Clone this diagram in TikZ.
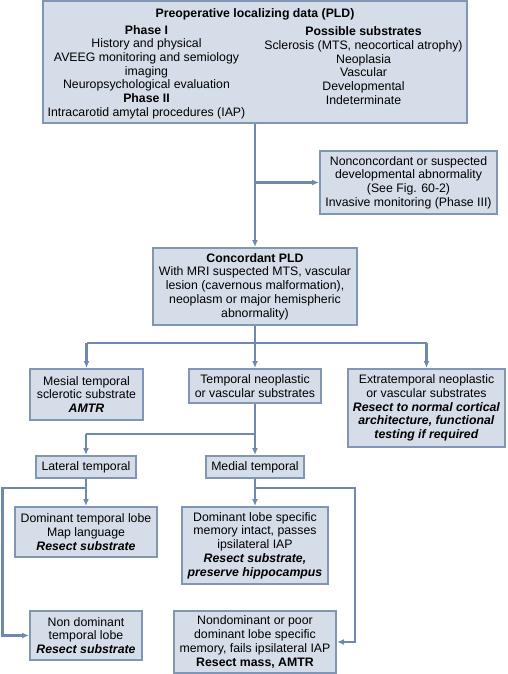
\documentclass[tikz,border=0pt]{standalone}
\usepackage{fontspec}
\setmainfont{Liberation Sans}
\usetikzlibrary{arrows.meta}
\definecolor{boxfill}{HTML}{D5DDE8}
\definecolor{boxline}{HTML}{8196B4}
\definecolor{conn}{HTML}{6F89AE}
\tikzset{
  box/.style={draw=boxline, line width=2pt, fill=boxfill, align=center, inner sep=0pt,
    font=\fontsize{12.3}{13.7}\selectfont},
  txt/.style={align=center, inner sep=0pt, font=\fontsize{12.3}{13.7}\selectfont},
  conline/.style={draw=conn, line width=2.3pt},
  arr/.style={conline, -{Latex[length=7pt,width=6pt]}},
}
\begin{document}
\begin{tikzpicture}[x=1pt,y=-1pt]
\useasboundingbox (0,0) rectangle (507,674);
% top box
\node[box, minimum width=424, minimum height=122] (pld) at (255,62) {};
\node[txt] (title) at (255,14) {\textbf{Preoperative localizing data (PLD)}};
\node[txt] (phase) at (146.5,72) {\textbf{Phase I}\\History and physical\\AVEEG monitoring and semiology\\imaging\\Neuropsychological evaluation\\\textbf{Phase II}\\Intracarotid amytal procedures (IAP)};
\node[txt] (subs) at (363.5,65.5) {\textbf{Possible substrates}\\Sclerosis (MTS, neocortical atrophy)\\Neoplasia\\Vascular\\Developmental\\Indeterminate};
% nonconcordant
\node[box, minimum width=177, minimum height=63] (nonc) at (408.5,182.5) {Nonconcordant or suspected\\developmental abnormality\\(See Fig. 60-2)\\Invasive monitoring (Phase III)};
% concordant
\node[box, minimum width=204, minimum height=77] (conc) at (255,286.5) {\textbf{Concordant PLD}\\With MRI suspected MTS, vascular\\lesion (cavernous malformation),\\neoplasm or major hemispheric\\abnormality)};
% level 3
\node[box, minimum width=113, minimum height=51] (mesial) at (86.5,394.5) {Mesial temporal\\sclerotic substrate\\\textbf{\textit{AMTR}}};
\node[box, minimum width=132, minimum height=34] (tneo) at (255,386) {Temporal neoplastic\\or vascular substrates};
\node[box, minimum width=157, minimum height=78] (extra) at (426.5,408) {Extratemporal neoplastic\\or vascular substrates\\\textbf{\textit{Resect to normal cortical}}\\\textbf{\textit{architecture, functional}}\\\textbf{\textit{testing if required}}};
% level 4
\node[box, minimum width=100, minimum height=22] (lat) at (86,467) {Lateral temporal};
\node[box, minimum width=98, minimum height=22] (med) at (255,467) {Medial temporal};
% level 5
\node[box, minimum width=142, minimum height=50] (domt) at (86,532) {Dominant temporal lobe\\Map language\\\textbf{\textit{Resect substrate}}};
\node[box, minimum width=146, minimum height=77] (doml) at (255,545.5) {Dominant lobe specific\\memory intact, passes\\ipsilateral IAP\\\textbf{\textit{Resect substrate,}}\\\textbf{\textit{preserve hippocampus}}};
% level 6
\node[box, minimum width=112, minimum height=49] (nondt) at (86,635.5) {Non dominant\\temporal lobe\\\textbf{\textit{Resect substrate}}};
\node[box, minimum width=162, minimum height=62] (nondl) at (255,642) {Nondominant or poor\\dominant lobe specific\\memory, fails ipsilateral IAP\\\textbf{Resect mass, AMTR}};
% coordinates
\coordinate (b1) at (255,182.5);
\coordinate (h3) at (255,343);
\coordinate (h3l) at (86.5,343);
\coordinate (h3r) at (426.5,343);
\coordinate (h4) at (255,434);
\coordinate (h4l) at (86,434);
\coordinate (h5l) at (86,488);
\coordinate (ll) at (2.5,488);
\coordinate (h5m) at (255,488);
\coordinate (rr) at (355,488);
% connectors
\draw[arr] (pld.south) -- (conc.north);
\draw[arr] (b1) -- (nonc.west);
\draw[conline] (conc.south) -- (h3);
\draw[conline] (h3l) -- (h3r);
\draw[arr] (h3l) -- (mesial.north);
\draw[arr] (h3) -- (tneo.north);
\draw[arr] (h3r) -- (extra.north);
\draw[conline] (tneo.south) -- (h4);
\draw[conline] (h4l) -- (h4);
\draw[arr] (h4l) -- (lat.north);
\draw[arr] (h4) -- (med.north);
\draw[arr] (lat.south) -- (domt.north);
\draw[arr] (med.south) -- (doml.north);
\draw[arr] (h5l) -- (ll) |- (nondt.west);
\draw[arr] (h5m) -- (rr) |- (nondl.east);
\end{tikzpicture}
\end{document}
